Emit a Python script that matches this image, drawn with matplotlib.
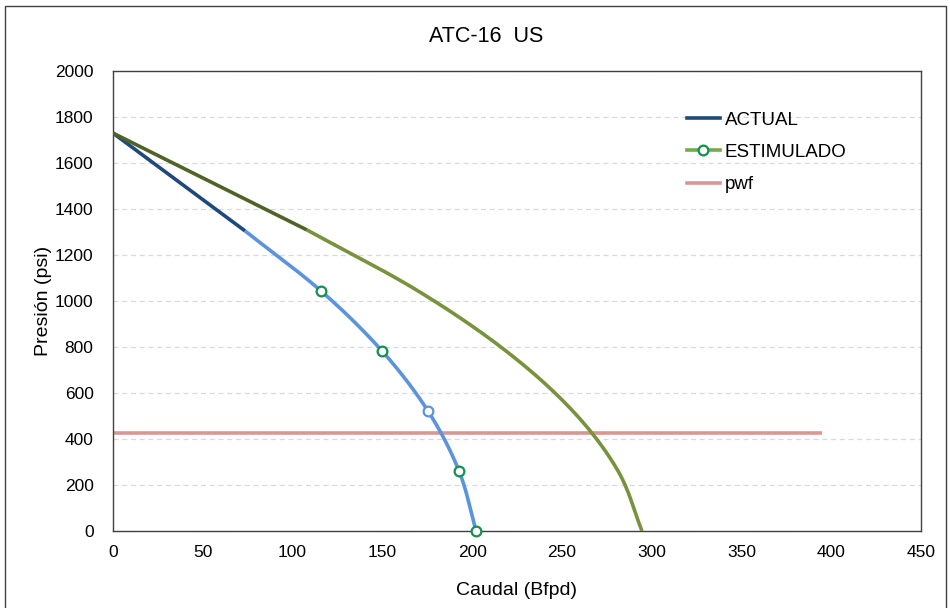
import numpy as np
import matplotlib
matplotlib.use("Agg")
import matplotlib.pyplot as plt
from matplotlib.lines import Line2D
from matplotlib.patches import Rectangle

plt.rcParams['font.family'] = ['Liberation Sans', 'DejaVu Sans']

# ---- data ----
actual_q = [0, 73.5, 115.8, 149.8, 175.4, 192.7, 202.2]
actual_p = [1730, 1305, 1044, 783, 522, 261, 0]
estim_q = [0, 108, 169.2, 218.5, 255.8, 281.2, 294.6]
estim_p = [1730, 1309, 1047, 785, 524, 262, 0]
pwf_q = [0, 395]
pwf_p = [426, 426]
xticks = [0, 50, 100, 150, 200, 250, 300, 350, 400, 450]
yticks = [0, 200, 400, 600, 800, 1000, 1200, 1400, 1600, 1800, 2000]


def smooth(xs, ys, n=30):
    """Catmull-Rom rendering of a line through the given points (like Excel smoothed lines)."""
    x = np.asarray(xs, float)
    y = np.asarray(ys, float)
    P = np.column_stack([x, y])
    P = np.vstack([P[0] - (P[1] - P[0]), P, P[-1] + (P[-1] - P[-2])])
    out = []
    t = np.linspace(0, 1, n)[:, None]
    for i in range(1, len(P) - 2):
        p0, p1, p2, p3 = P[i - 1], P[i], P[i + 1], P[i + 2]
        seg = 0.5 * ((2 * p1) + (-p0 + p2) * t + (2 * p0 - 5 * p1 + 4 * p2 - p3) * t ** 2
                     + (-p0 + 3 * p1 - 3 * p2 + p3) * t ** 3)
        out.append(seg if i == 1 else seg[1:])
    o = np.vstack(out)
    return o[:, 0], o[:, 1]


fig = plt.figure(figsize=(9.5, 6.08), dpi=100)
fig.patches.append(Rectangle((5 / 950, -0.01), 941 / 950, 1 - 6 / 608 + 0.01,
                             transform=fig.transFigure, fill=False,
                             edgecolor='#404040', linewidth=1.0))
ax = fig.add_axes([113 / 950, 1 - 531 / 608, 808 / 950, 460 / 608])

navy = '#1F497D'
lblue = '#5B94DC'
olive_dark = '#4F6228'
olive = '#77933C'
mk_green = '#14904E'
pwf_col = '#D99694'

# pwf
ax.plot(pwf_q, pwf_p, color=pwf_col, lw=2.6, solid_capstyle='butt', zorder=2)

# ACTUAL: straight part then curve
ax.plot(actual_q[:2], actual_p[:2], color=navy, lw=2.6, solid_capstyle='butt', zorder=4)
sx, sy = smooth(actual_q[1:], actual_p[1:])
ax.plot(sx, sy, color=lblue, lw=2.6, solid_capstyle='butt', zorder=3)

# ESTIMULADO: straight part then curve
ax.plot(estim_q[:2], estim_p[:2], color=olive_dark, lw=2.6, solid_capstyle='butt', zorder=4)
ex, ey = smooth(estim_q[1:], estim_p[1:])
ax.plot(ex, ey, color=olive, lw=2.6, solid_capstyle='butt', zorder=3)

# markers on the actual curve
for i in range(2, len(actual_q)):
    ec = lblue if actual_p[i] == 522 else mk_green
    ax.plot([actual_q[i]], [actual_p[i]], 'o', ms=7, mfc='white', mec=ec, mew=1.6,
            zorder=5, clip_on=False)

ax.set_xlim(0, 450)
ax.set_ylim(0, 2000)
ax.set_xticks(xticks)
ax.set_yticks(yticks)
ax.tick_params(length=0, labelsize=12.5, colors='#000000', pad=10)
ax.tick_params(axis='y', pad=14)
ax.yaxis.grid(True, linestyle=(0, (4, 3)), color='#D9D9D9', lw=0.9)
ax.set_axisbelow(True)
for s in ax.spines.values():
    s.set_color('#404040')
    s.set_linewidth(1.0)

ax.set_xlabel('Caudal (Bfpd)', fontsize=14, labelpad=16)
ax.set_ylabel('Presión (psi)', fontsize=14, labelpad=2)
fig.text(486 / 950, 1 - 36 / 608, 'ATC-16  US', ha='center', va='center', fontsize=15.5)

handles = [
    Line2D([], [], color=navy, lw=2.6),
    Line2D([], [], color='#70AD47', lw=2.6, marker='o', ms=7, mfc='white', mec=mk_green, mew=1.6),
    Line2D([], [], color=pwf_col, lw=2.6),
]
leg = ax.legend(handles, ['ACTUAL', 'ESTIMULADO', 'pwf'], loc='upper left',
                bbox_to_anchor=(566 / 808, (531 - 104) / 460), frameon=False,
                fontsize=13.5, handlelength=1.8, handletextpad=0.25, labelspacing=0.81,
                borderaxespad=0)

fig.savefig('out.png', dpi=100)
